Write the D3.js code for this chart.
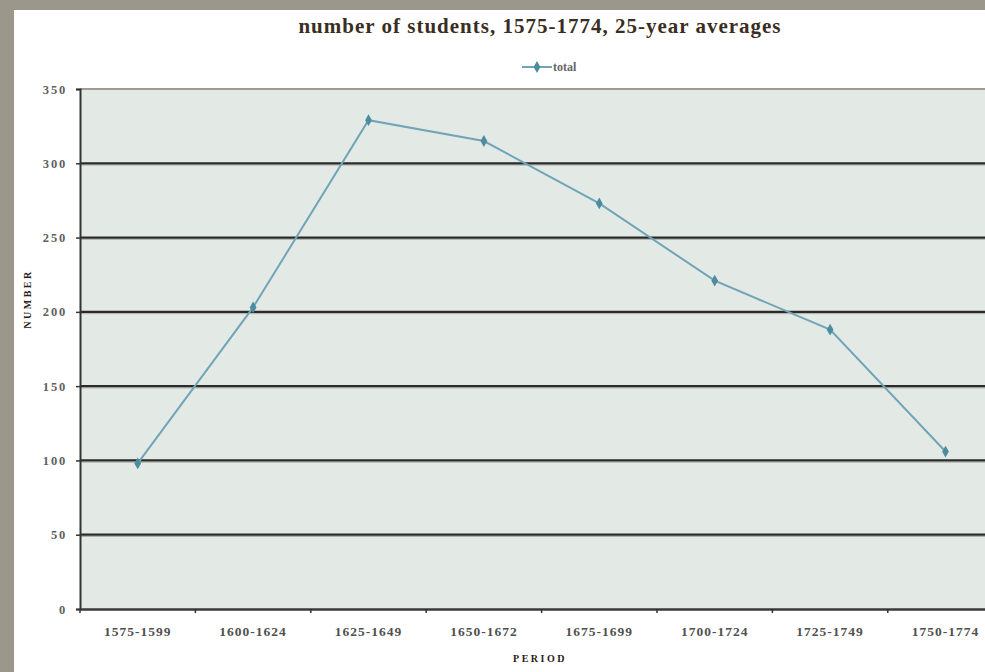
<!DOCTYPE html>
<html>
<head>
<meta charset="utf-8">
<script src="https://cdn.jsdelivr.net/npm/d3@7"></script>
<style>
  body { margin: 0; background: #ffffff; overflow: hidden; }
  svg { display: block; }
</style>
</head>
<body>
<div id="chart"></div>
<script>
// data
var periods = ["1575-1599", "1600-1624", "1625-1649", "1650-1672", "1675-1699", "1700-1724", "1725-1749", "1750-1774"];
var totals = [98, 203, 329, 315, 273, 221, 188, 106];
var yTicks = [0, 50, 100, 150, 200, 250, 300, 350];
var seriesName = "total";

var width = 985, height = 672;
var margin = {top: 89, left: 80, bottom: 609};
var bandW = 115.4;

var svg = d3.select("#chart").append("svg")
    .attr("width", width)
    .attr("height", height);

// grey frame (left and top)
svg.append("rect").attr("x", 0).attr("y", 0).attr("width", width).attr("height", 10).attr("fill", "#9b978a");
svg.append("rect").attr("x", 0).attr("y", 0).attr("width", 14).attr("height", height).attr("fill", "#9b978a");

var x = d3.scaleBand()
    .domain(periods)
    .range([margin.left, margin.left + bandW * periods.length]);

var y = d3.scaleLinear()
    .domain([0, 350])
    .range([margin.bottom, margin.top]);

// plot background
svg.append("rect")
    .attr("x", margin.left)
    .attr("y", y(350))
    .attr("width", width - margin.left)
    .attr("height", y(0) - y(350))
    .attr("fill", "#e3eae5");

// gridlines
var inner = yTicks.filter(function(d) { return d > 0 && d < 350; });
var grid = svg.append("g");
grid.selectAll(".gshadow")
    .data(inner)
    .enter().append("line")
    .attr("x1", margin.left).attr("x2", width)
    .attr("y1", function(d) { return y(d) + 1.8; })
    .attr("y2", function(d) { return y(d) + 1.8; })
    .attr("stroke", "#aeb0aa")
    .attr("stroke-width", 1);
grid.selectAll(".gline")
    .data(inner)
    .enter().append("line")
    .attr("x1", margin.left).attr("x2", width)
    .attr("y1", function(d) { return y(d); })
    .attr("y2", function(d) { return y(d); })
    .attr("stroke", "#2a2a2a")
    .attr("stroke-width", 2.2);

// top border of plot
svg.append("line")
    .attr("x1", margin.left).attr("x2", width)
    .attr("y1", y(350)).attr("y2", y(350))
    .attr("stroke", "#9f9b93")
    .attr("stroke-width", 2);

// y axis
var yAxis = svg.append("g")
    .attr("transform", "translate(" + margin.left + ",0)")
    .call(d3.axisLeft(y).tickValues(yTicks).tickSize(4).tickPadding(9));
yAxis.select(".domain").attr("stroke", "#333").attr("stroke-width", 2);
yAxis.selectAll(".tick line").attr("stroke", "#333").attr("stroke-width", 1.5);
yAxis.selectAll("text")
    .attr("font-family", "Liberation Serif, serif")
    .attr("font-size", 12.5)
    .attr("font-weight", "bold")
    .attr("letter-spacing", 1.8)
    .attr("fill", "#606060");

// x axis
var xAxis = svg.append("g")
    .attr("transform", "translate(0," + y(0) + ")")
    .call(d3.axisBottom(x).tickSize(0).tickPadding(17));
xAxis.select(".domain").attr("stroke", "#3a3a3a").attr("stroke-width", 2.5);
xAxis.selectAll("text")
    .attr("font-family", "Liberation Serif, serif")
    .attr("font-size", 13.5)
    .attr("font-weight", "bold")
    .attr("letter-spacing", 1)
    .attr("fill", "#505050");

// small tick marks between categories
svg.append("g").selectAll("line")
    .data(periods)
    .enter().append("line")
    .attr("x1", function(d) { return x(d); })
    .attr("x2", function(d) { return x(d); })
    .attr("y1", y(0))
    .attr("y2", y(0) + 4)
    .attr("stroke", "#333")
    .attr("stroke-width", 1.5);

// series line
var line = d3.line()
    .x(function(d, i) { return x(periods[i]) + x.bandwidth() / 2; })
    .y(function(d) { return y(d); });

svg.append("path")
    .datum(totals)
    .attr("d", line)
    .attr("fill", "none")
    .attr("stroke", "#72a4b7")
    .attr("stroke-width", 2);

var diamond = d3.symbol().type(d3.symbolDiamond).size(40);
svg.selectAll(".pt")
    .data(totals)
    .enter().append("path")
    .attr("class", "pt")
    .attr("d", diamond)
    .attr("transform", function(d, i) {
        return "translate(" + (x(periods[i]) + x.bandwidth() / 2) + "," + y(d) + ")";
    })
    .attr("fill", "#4d8c9f");

// legend
var lg = svg.append("g").attr("transform", "translate(522,67)");
lg.append("line").attr("x1", 0).attr("x2", 30).attr("y1", 0).attr("y2", 0)
    .attr("stroke", "#72a4b7").attr("stroke-width", 2);
lg.append("path").attr("d", diamond).attr("transform", "translate(15,0)").attr("fill", "#4d8c9f");
lg.append("text").attr("x", 31).attr("y", 4)
    .attr("font-family", "Liberation Serif, serif")
    .attr("font-size", 12)
    .attr("font-weight", "bold")
    .attr("fill", "#666")
    .text(seriesName);

// title
svg.append("text")
    .attr("x", 540).attr("y", 33)
    .attr("text-anchor", "middle")
    .attr("font-family", "Liberation Serif, serif")
    .attr("font-size", 21)
    .attr("font-weight", "bold")
    .attr("letter-spacing", 1)
    .attr("fill", "#3a2e22")
    .text("number of students, 1575-1774, 25-year averages");

// axis titles
svg.append("text")
    .attr("transform", "translate(31,299) rotate(-90)")
    .attr("text-anchor", "middle")
    .attr("font-family", "Liberation Serif, serif")
    .attr("font-size", 10)
    .attr("font-weight", "bold")
    .attr("letter-spacing", 2.5)
    .attr("fill", "#2a2018")
    .text("NUMBER");

svg.append("text")
    .attr("x", 540).attr("y", 662)
    .attr("text-anchor", "middle")
    .attr("font-family", "Liberation Serif, serif")
    .attr("font-size", 10)
    .attr("font-weight", "bold")
    .attr("letter-spacing", 2.5)
    .attr("fill", "#2a2018")
    .text("PERIOD");
</script>
</body>
</html>
